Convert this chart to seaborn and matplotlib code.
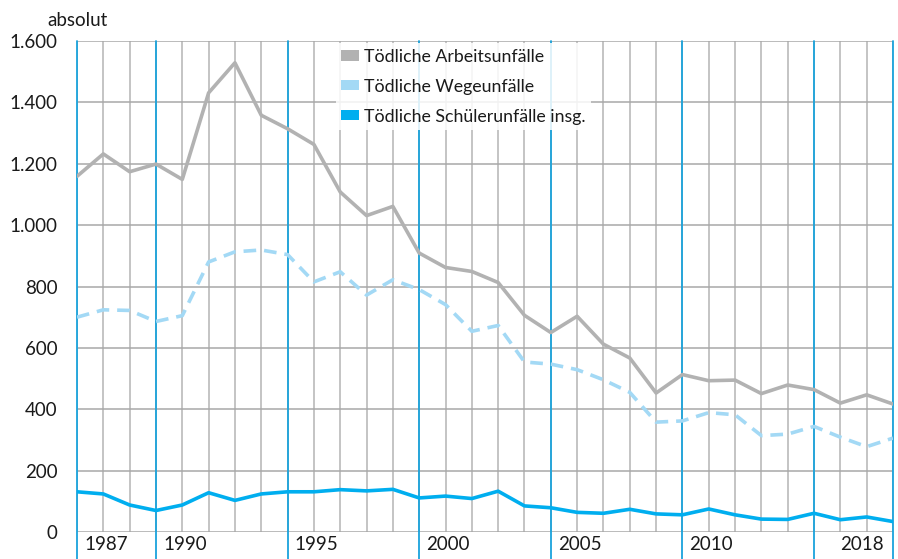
import matplotlib
matplotlib.use("Agg")
import matplotlib.pyplot as plt
import matplotlib.transforms as mtrans
from matplotlib.patches import Patch
import pandas as pd
import seaborn as sns

# Werte
jahre = list(range(1987, 2019))
arbeitsunfaelle = [1159, 1232, 1174, 1199, 1149, 1431, 1529, 1358, 1314, 1263, 1108, 1031,
                   1061, 909, 862, 849, 813, 706, 650, 703, 612, 567, 453, 513, 493, 495,
                   451, 479, 464, 420, 447, 417]
wegeunfaelle = [700, 724, 722, 686, 705, 880, 913, 919, 904, 815, 848, 772, 822, 790, 741,
                654, 673, 554, 547, 529, 496, 455, 358, 362, 389, 382, 314, 319, 344, 309,
                278, 306]
schuelerunfaelle = [131, 124, 88, 70, 88, 128, 103, 124, 131, 131, 138, 134, 139, 111, 117,
                    109, 133, 85, 79, 64, 61, 74, 59, 56, 75, 56, 42, 41, 61, 40, 49, 34]

serien = ["Tödliche Arbeitsunfälle", "Tödliche Wegeunfälle", "Tödliche Schülerunfälle insg."]
farben = ["#b2b2b2", "#a3d9f5", "#00aeef"]
blaue_jahre = [1987, 1990, 1995, 2000, 2005, 2010, 2015, 2018]
x_labels = [1987, 1990, 1995, 2000, 2005, 2010, 2018]
y_ticks = [0, 200, 400, 600, 800, 1000, 1200, 1400, 1600]

df = pd.DataFrame({
    "Jahr": jahre * 3,
    "Wert": arbeitsunfaelle + wegeunfaelle + schuelerunfaelle,
    "Serie": [serien[0]] * len(jahre) + [serien[1]] * len(jahre) + [serien[2]] * len(jahre),
})

sns.set_style("white")
plt.rcParams["font.family"] = ["Lato", "DejaVu Sans"]

fig = plt.figure(figsize=(8.98, 5.59), dpi=100)
ax = fig.add_axes([77 / 898, 27 / 559, 816 / 898, 491 / 559])

# Gitter
for j in jahre:
    ax.axvline(j, color="#b4b4b4", lw=1.1, zorder=1)
for v in y_ticks:
    ax.axhline(v, color="#a8a8a8", lw=1.1, zorder=1)
for j in blaue_jahre:
    ax.axvline(j, ymin=-27 / 491, ymax=1, color="#1aa3dc", lw=1.3, zorder=2, clip_on=False)

sns.lineplot(data=df, x="Jahr", y="Wert", hue="Serie", style="Serie",
             hue_order=serien, style_order=serien,
             palette=dict(zip(serien, farben)),
             dashes={serien[0]: "", serien[1]: (3.5, 2.2), serien[2]: ""},
             lw=2.6, legend=False, ax=ax, zorder=3)

ax.set_xlim(1987, 2018)
ax.set_ylim(0, 1600)
ax.set_xlabel("")
ax.set_ylabel("")
for s in ax.spines.values():
    s.set_visible(False)

ax.set_yticks(y_ticks)
ax.set_yticklabels([f"{v:,}".replace(",", ".") for v in y_ticks], fontsize=13.5, color="#1a1a1a")
ax.tick_params(axis="y", length=0, pad=14)

ax.set_xticks(x_labels)
ax.set_xticklabels([str(j) for j in x_labels], fontsize=13.5, color="#1a1a1a")
ax.tick_params(axis="x", length=0, pad=3)
labels = ax.get_xticklabels()
for lab in labels[:-1]:
    lab.set_ha("left")
    lab.set_transform(lab.get_transform() + mtrans.ScaledTranslation(7 / 100, 0, fig.dpi_scale_trans))
labels[-1].set_ha("right")
labels[-1].set_transform(labels[-1].get_transform() + mtrans.ScaledTranslation(-9 / 100, 0, fig.dpi_scale_trans))

fig.text(47 / 898, 1 - 26 / 559, "absolut", fontsize=13.5, color="#1a1a1a", va="baseline")

handles = [Patch(facecolor=f, edgecolor="none") for f in farben]
leg = ax.legend(handles, serien, loc="upper left", bbox_to_anchor=(0.317, 0.995),
                frameon=True, fontsize=12.8, handlelength=1.0, handleheight=0.5,
                handletextpad=0.3, labelspacing=0.78, borderpad=0.3, borderaxespad=0)
leg.get_frame().set_facecolor("white")
leg.get_frame().set_edgecolor("none")
leg.get_frame().set_alpha(0.85)
leg.get_frame().set_boxstyle("square", pad=0)
for t in leg.get_texts():
    t.set_color("#1a1a1a")
leg.set_zorder(5)

fig.savefig("out.png", dpi=100, facecolor="white")
